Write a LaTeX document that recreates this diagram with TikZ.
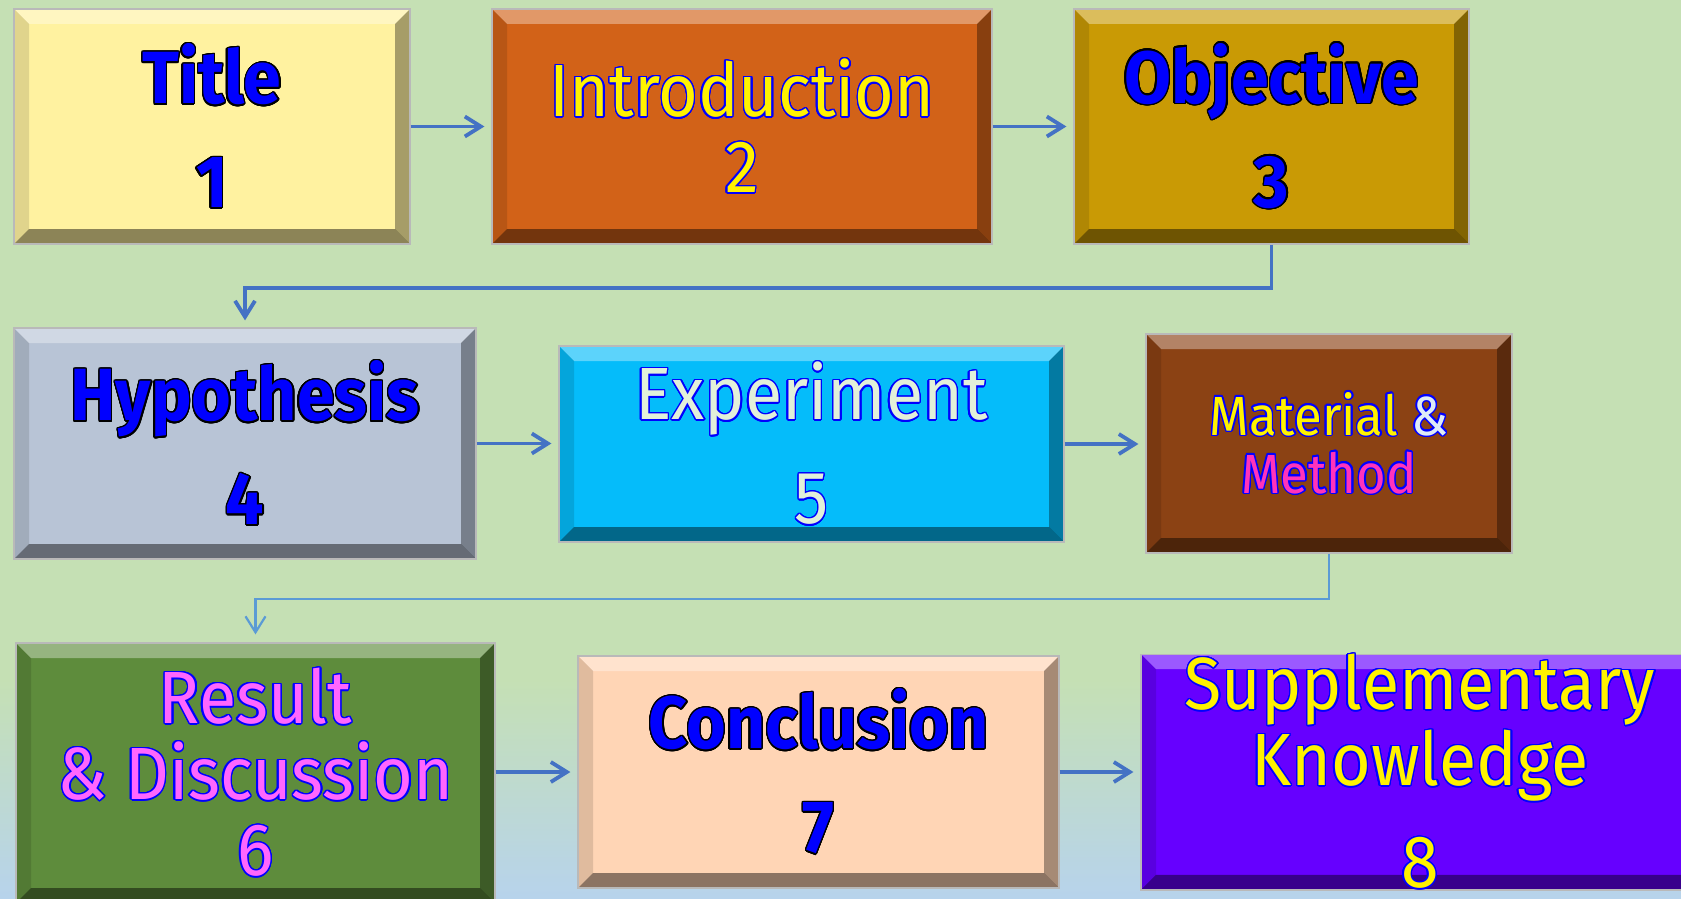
\documentclass[tikz,border=0pt]{standalone}
\usepackage{fontspec}
\usepackage{xcolor}
\usepackage{contour}
\usetikzlibrary{arrows.meta,calc}
\newfontfamily\boxfont[FakeStretch=0.92]{Fira Sans}
\contourlength{0.7pt}
\contournumber{24}
\definecolor{BgGreen}{RGB}{197,224,180}
\definecolor{BgBlue}{RGB}{183,211,236}
\definecolor{TitleFill}{RGB}{255,242,160}
\definecolor{IntroFill}{RGB}{210,98,24}
\definecolor{ObjFill}{RGB}{201,154,5}
\definecolor{HypFill}{RGB}{184,196,214}
\definecolor{ExpFill}{RGB}{5,188,250}
\definecolor{MethFill}{RGB}{139,66,20}
\definecolor{ResFill}{RGB}{94,140,60}
\definecolor{ConcFill}{RGB}{255,213,181}
\definecolor{SuppFill}{RGB}{102,0,255}
\definecolor{ArrowBlue}{RGB}{68,114,196}
\definecolor{LinkBlue}{RGB}{91,155,213}
\definecolor{TxtBlue}{RGB}{0,0,255}
\definecolor{TxtPale}{RGB}{226,240,217}
\definecolor{AmpPale}{RGB}{222,235,247}
\definecolor{TxtPink}{RGB}{255,51,187}
\definecolor{TxtViolet}{RGB}{255,102,255}
\newcommand{\bluetxt}[1]{\contour{black}{#1}}
\newcommand{\lighttxt}[1]{\contour{blue}{#1}}
\def\bv{7.5pt}
\tikzset{
  bevel/.style={path picture={
    \path (path picture bounding box.south west) coordinate (bsw)
          (path picture bounding box.north east) coordinate (bne)
          (bsw |- bne) coordinate (bnw) (bne |- bsw) coordinate (bse);
    \path ($(bsw)+(\bv,\bv)$) coordinate (isw) ($(bne)+(-\bv,-\bv)$) coordinate (ine)
          ($(bnw)+(\bv,-\bv)$) coordinate (inw) ($(bse)+(-\bv,\bv)$) coordinate (ise);
    \fill[white, opacity=.35] (bnw) -- (bne) -- (ine) -- (inw) -- cycle;
    \fill[black, opacity=.45] (bsw) -- (bse) -- (ise) -- (isw) -- cycle;
    \fill[black, opacity=.35] (bse) -- (bne) -- (ine) -- (ise) -- cycle;
    \fill[black, opacity=.12] (bsw) -- (bnw) -- (inw) -- (isw) -- cycle;
  }},
  stepbox/.style={draw=gray!55, line width=0.6pt, inner sep=0pt, align=center, bevel},
  boldtxt/.style={font=\boxfont\bfseries\fontsize{37}{38}\selectfont, text=TxtBlue},
  thintxt/.style={font=\boxfont\fontsize{37}{38}\selectfont},
  arr/.style={-{Straight Barb[length=8pt,width=10pt]}, line width=1.9pt, ArrowBlue, shorten >=3.5pt},
  thinarr/.style={-{Straight Barb[length=8pt,width=10pt]}, line width=1.1pt, LinkBlue, shorten >=4pt},
}

\begin{document}
\begin{tikzpicture}[x=0.5pt, y=-0.5pt]
  \useasboundingbox (0,0) rectangle (1681,899);
  \clip (0,0) rectangle (1681,899);
  % background
  \fill[BgGreen] (0,0) rectangle (1681,899);
  \shade[top color=BgGreen, bottom color=BgBlue] (0,680) rectangle (1681,899);

  % row 1
  \node[stepbox, boldtxt, fill=TitleFill, minimum width=198pt, minimum height=117.5pt]
    (title) at (212,126.5) {\bluetxt{Title}\\[14pt]\bluetxt{1}};
  \node[stepbox, thintxt, text=yellow, fill=IntroFill, minimum width=250pt, minimum height=117.5pt]
    (intro) at (742,126.5) {\lighttxt{Introduction}\\\lighttxt{2}};
  \node[stepbox, boldtxt, fill=ObjFill, minimum width=197.5pt, minimum height=117.5pt]
    (objective) at (1271.5,126.5) {\bluetxt{Objective}\\[14pt]\bluetxt{3}};

  % row 2
  \node[stepbox, boldtxt, fill=HypFill, minimum width=231pt, minimum height=115.5pt]
    (hypothesis) at (245,443.5) {\bluetxt{Hypothesis}\\[14pt]\bluetxt{4}};
  \node[stepbox, thintxt, text=TxtPale, fill=ExpFill, minimum width=252.5pt, minimum height=98pt]
    (experiment) at (811.5,444) {\lighttxt{Experiment}\\[14pt]\lighttxt{5}};
  \node[stepbox, font=\boxfont\fontsize{27.6}{29}\selectfont, fill=MethFill, minimum width=183pt, minimum height=109.5pt]
    (method) at (1329,443.5) {\textcolor{yellow}{\lighttxt{Material}} \textcolor{AmpPale}{\lighttxt{\&}}\\
      \textcolor{TxtPink}{\lighttxt{Method}}};

  % row 3
  \node[stepbox, thintxt, text=TxtViolet, fill=ResFill, minimum width=239.5pt, minimum height=130pt]
    (result) at (255.5,773) {\lighttxt{Result}\\\lighttxt{\& Discussion}\\\lighttxt{6}};
  \node[stepbox, boldtxt, fill=ConcFill, minimum width=240.5pt, minimum height=116pt]
    (conclusion) at (818.5,772) {\bluetxt{Conclusion}\\[14pt]\bluetxt{7}};
  \node[stepbox, thintxt, text=yellow, fill=SuppFill, minimum width=279pt, minimum height=116pt]
    (supplement) at (1420,772) {\lighttxt{Supplementary}\\\lighttxt{Knowledge}\\[13pt]\lighttxt{8}};

  % connectors
  \draw[arr] (title.east) -- (intro.west);
  \draw[arr] (intro.east) -- (objective.west);
  \draw[arr] (objective.south) -- ++(0,43) -| (hypothesis.north);
  \draw[arr] (hypothesis.east) -- (hypothesis.east -| experiment.west);
  \draw[arr] (experiment.east) -- (experiment.east -| method.west);
  \draw[thinarr] (method.south) -- ++(0,45) -| (result.north);
  \draw[arr] (result.east |- conclusion.west) -- (conclusion.west);
  \draw[arr] (conclusion.east) -- (conclusion.east -| supplement.west);
\end{tikzpicture}
\end{document}
